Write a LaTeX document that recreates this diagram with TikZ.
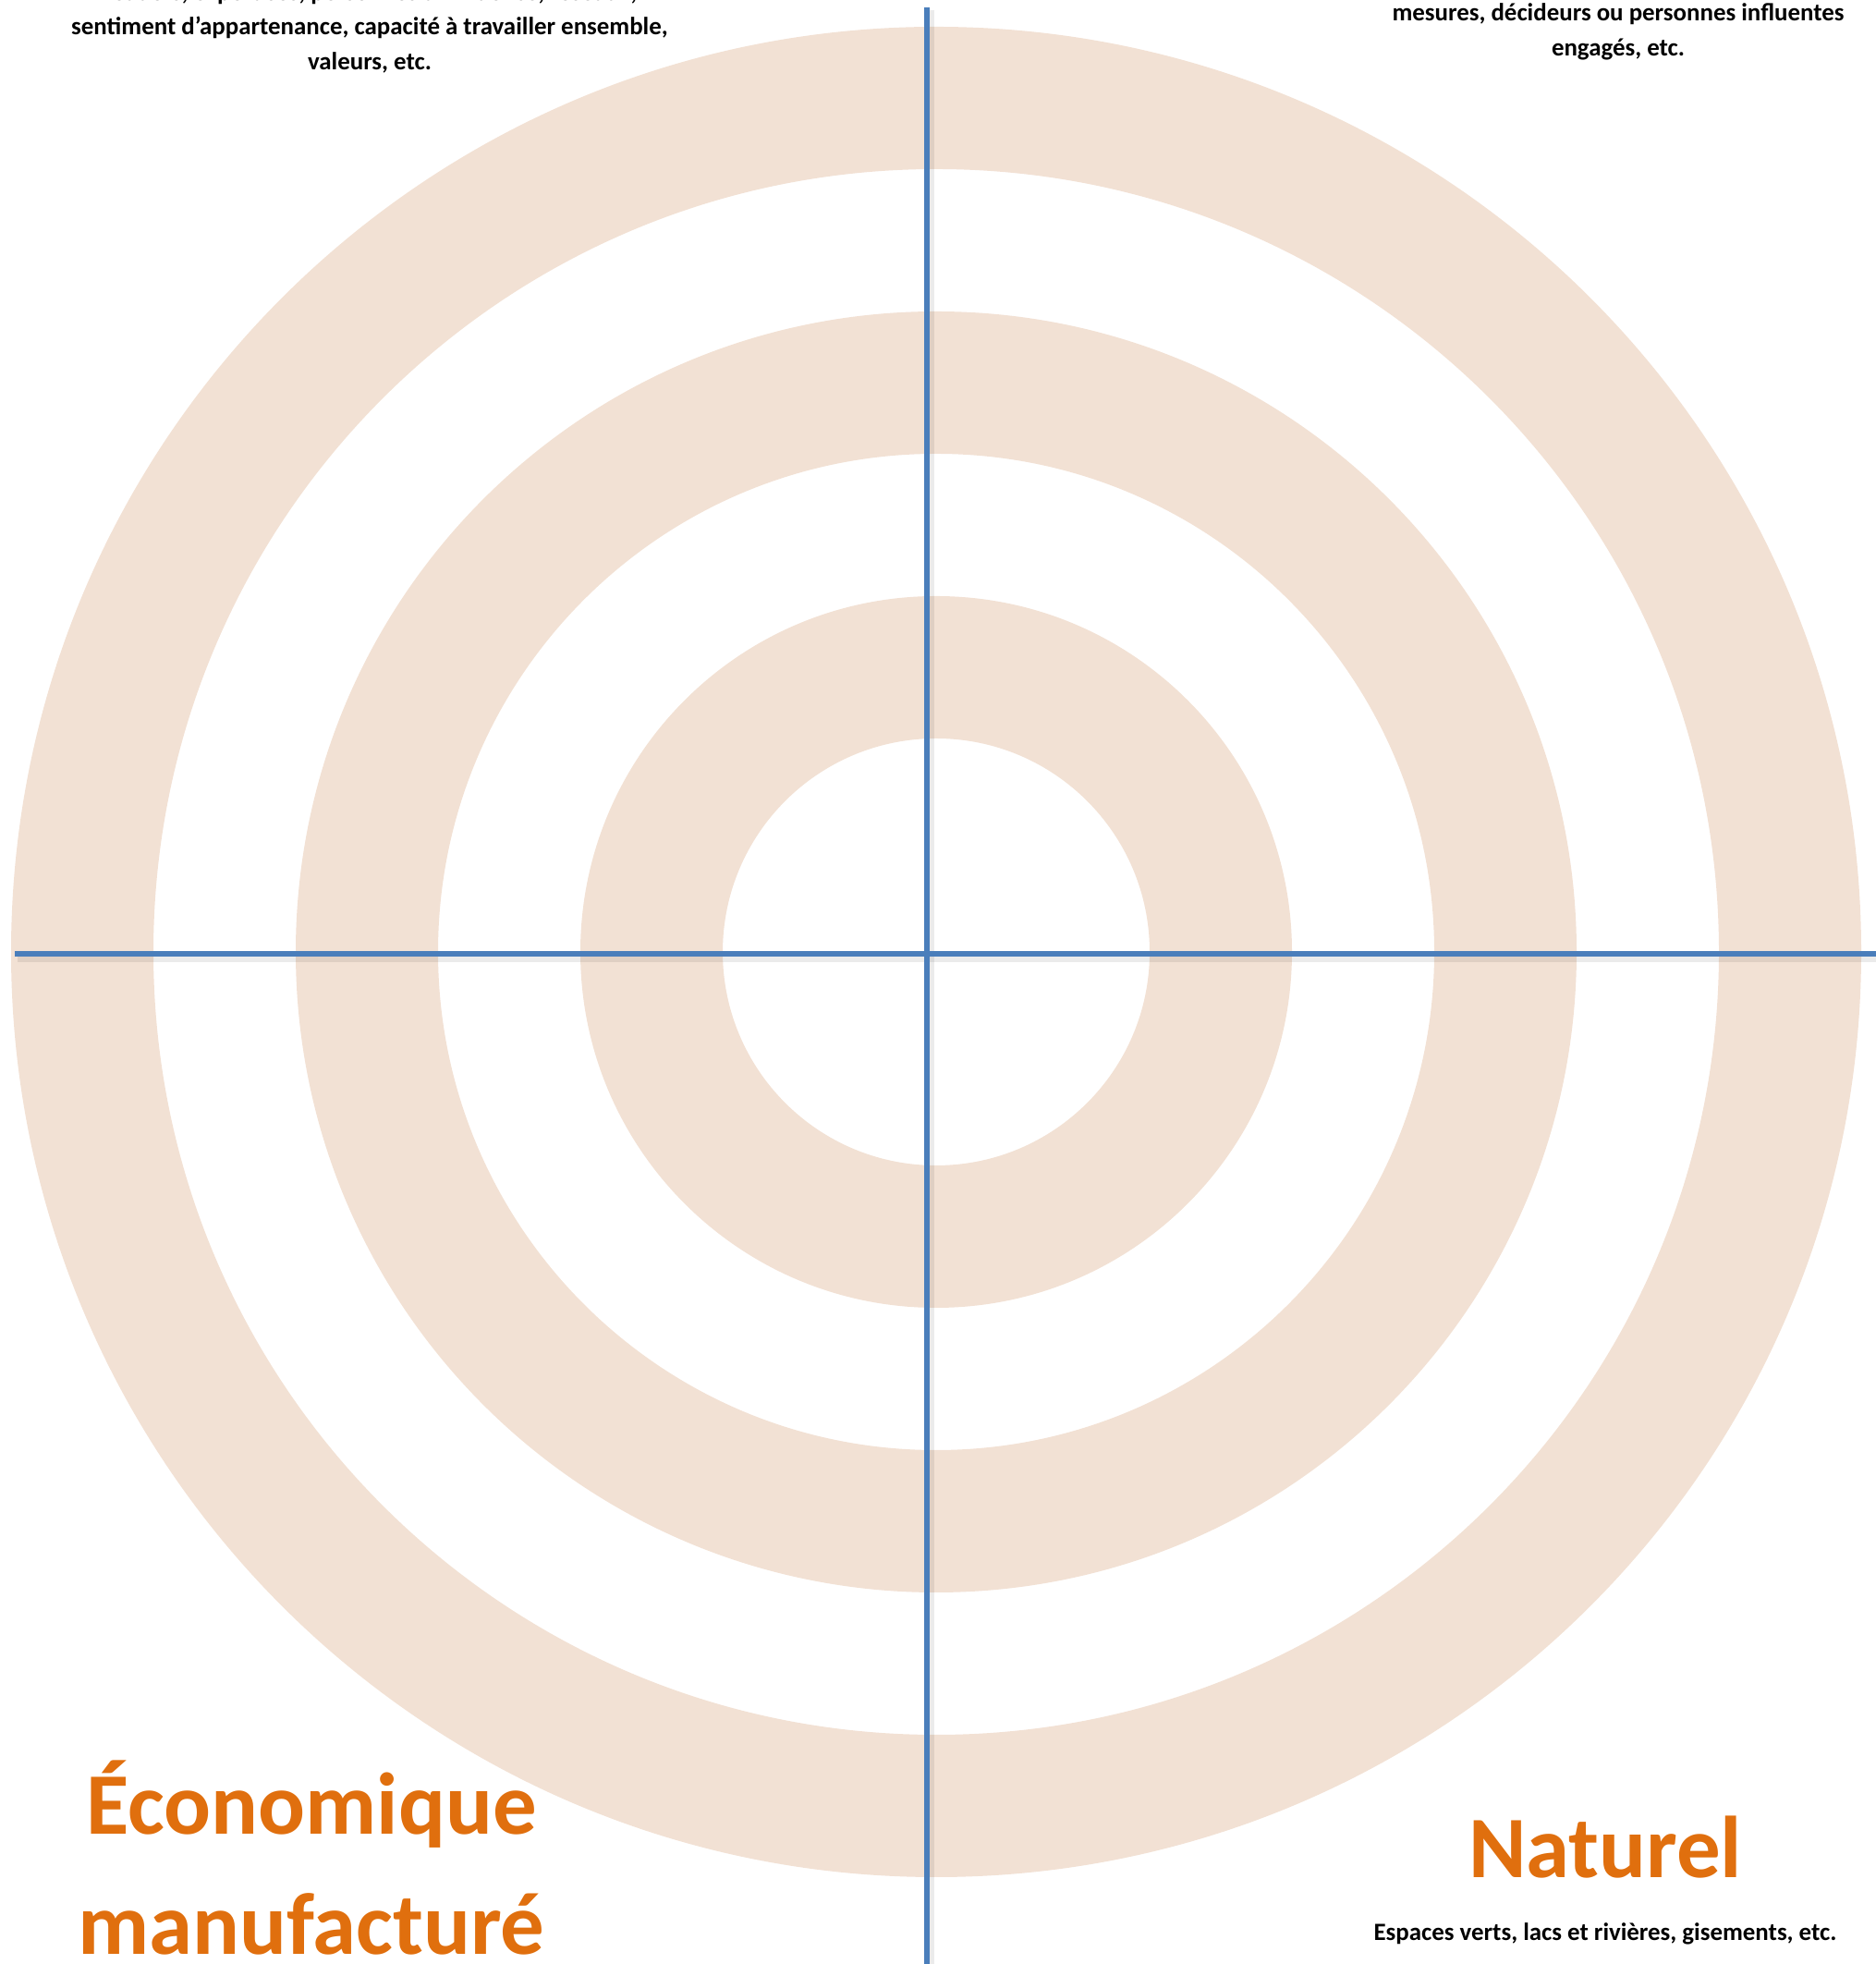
\documentclass[tikz,border=0pt]{standalone}
\usepackage{fontspec}
\setmainfont{Carlito}
\usetikzlibrary{positioning}
\definecolor{ringcol}{RGB}{242,225,212}
\definecolor{axiscol}{RGB}{74,126,187}
\definecolor{titlecol}{RGB}{224,111,14}

\begin{document}
\begin{tikzpicture}[
  axis/.style={draw=axiscol, line width=1.45pt},
  axisshadow/.style={draw=black, opacity=0.08, line width=2.6pt},
  legend/.style={font=\fontsize{7.65}{10.6}\selectfont\bfseries, align=center, inner sep=0pt},
  capital/.style={font=\fontsize{27}{37}\selectfont\bfseries, text=titlecol, align=center, inner sep=0pt}]
  \useasboundingbox (0,0) rectangle (20.30,21.25);
  \clip (0,0) rectangle (20.30,21.25);
% Target rings
  \coordinate (centre) at (10.13,10.95);
  \fill[ringcol, even odd rule] (centre) circle (10.01) (centre) circle (8.47)
     (centre) circle (6.93) (centre) circle (5.39)
     (centre) circle (3.85) (centre) circle (2.31);
% Axes
  \coordinate (top) at (10.03,21.17);
  \coordinate (bottom) at (10.03,-0.1);
  \coordinate (left) at (0.16,10.93);
  \coordinate (right) at (20.40,10.93);
  \draw[axisshadow] ([shift={(0.03,-0.03)}]top) -- ([shift={(0.03,-0.03)}]bottom);
  \draw[axisshadow] ([shift={(0.03,-0.04)}]left) -- ([shift={(0.03,-0.04)}]right);
  \draw[axis] (top) -- (bottom);
  \draw[axis] (left) -- (right);
% Labels
  \node[legend] (social) at (4.00,20.95)
    {Leaders, expertises, personnes d’influence, réseaux,\\
     sentiment d’appartenance, capacité à travailler ensemble,\\
     valeurs, etc.};
  \node[legend] (politique) at (17.51,20.905)
    {mesures, décideurs ou personnes influentes\\ engagés, etc.};
  \node[capital] (economique) at (3.37,1.15) {Économique\\manufacturé};
  \node[capital] (naturel) at (17.37,1.26) {Naturel};
  \node[legend, below=0.47cm of naturel] (naturelnote)
    {Espaces verts, lacs et rivières, gisements, etc.};
\end{tikzpicture}
\end{document}
